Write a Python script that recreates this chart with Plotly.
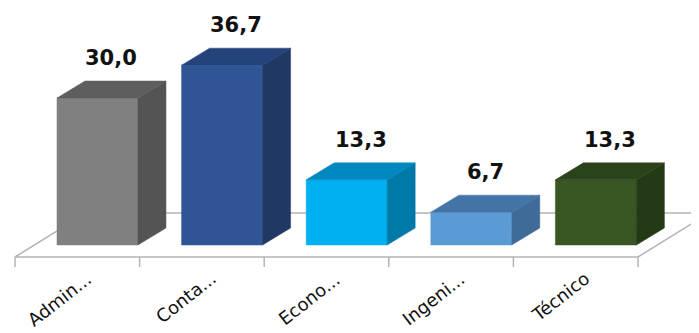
import plotly.graph_objects as go

categories = ["Admin...", "Conta...", "Econo...", "Ingeni...", "Técnico"]
values = [30.0, 36.7, 13.3, 6.7, 13.3]
value_labels = ["30,0", "36,7", "13,3", "6,7", "13,3"]
front_colors = ["#808080", "#2f5597", "#00b0f0", "#5b9bd5", "#385723"]
side_colors = ["#545454", "#203864", "#0078a8", "#3e6b98", "#243a17"]
top_colors = ["#5e5e5e", "#25437b", "#0088c0", "#4374a6", "#2b431b"]

# geometry (style constants)
PX_X = 124.6          # px per category unit
PX_Y = 4.9            # px per value unit
PAGE_OFF = 8          # default page body margin
bar_l, bar_r = -0.163, 0.487
dx, dy = 28 / PX_X, 17 / PX_Y
floor_front = -12 / PX_Y
floor_dx, floor_dy = 71 / PX_X, 44 / PX_Y
tick_len = 10 / PX_Y

fig = go.Figure()

n = len(categories)
# floor outline
fx = [-0.5, n - 0.5, n - 0.5 + floor_dx, -0.5 + floor_dx, -0.5]
fy = [floor_front, floor_front, floor_front + floor_dy, floor_front + floor_dy, floor_front]
fig.add_trace(go.Scatter(x=fx, y=fy, mode="lines", line=dict(color="#b4b4b4", width=1.5),
                         hoverinfo="skip", showlegend=False))
# tick marks
tx, ty = [], []
for k in range(n + 1):
    tx += [k - 0.5, k - 0.5, None]
    ty += [floor_front, floor_front - tick_len, None]
fig.add_trace(go.Scatter(x=tx, y=ty, mode="lines", line=dict(color="#b4b4b4", width=1.5),
                         hoverinfo="skip", showlegend=False))

for i, v in enumerate(values):
    xl, xr = i + bar_l, i + bar_r
    # front face
    fig.add_trace(go.Scatter(x=[xl, xr, xr, xl, xl], y=[0, 0, v, v, 0], mode="lines",
                             fill="toself", fillcolor=front_colors[i],
                             line=dict(color=front_colors[i], width=0.5),
                             hoverinfo="skip", showlegend=False))
    # side face
    fig.add_trace(go.Scatter(x=[xr, xr + dx, xr + dx, xr, xr], y=[0, dy, v + dy, v, 0], mode="lines",
                             fill="toself", fillcolor=side_colors[i],
                             line=dict(color=side_colors[i], width=0.5),
                             hoverinfo="skip", showlegend=False))
    # top face
    fig.add_trace(go.Scatter(x=[xl, xr, xr + dx, xl + dx, xl], y=[v, v, v + dy, v + dy, v], mode="lines",
                             fill="toself", fillcolor=top_colors[i],
                             line=dict(color=top_colors[i], width=0.5),
                             hoverinfo="skip", showlegend=False))
    fig.add_annotation(x=i + (bar_l + bar_r) / 2 + dx / 2, y=v + dy, yshift=23,
                       text="<b>%s</b>" % value_labels[i], showarrow=False,
                       xanchor="center", yanchor="middle",
                       font=dict(family="DejaVu Sans", size=21, color="#111111"))
    fig.add_annotation(x=i + 0.165, y=floor_front - 8 / PX_Y, text=categories[i], showarrow=False,
                       textangle=-38, xanchor="right", yanchor="top",
                       font=dict(family="DejaVu Sans", size=18, color="#111111"))

W, H = 699 - PAGE_OFF, 333 - PAGE_OFF
xmin = -0.5 - (15 - PAGE_OFF) / PX_X
ymin = -(H - (245 - PAGE_OFF)) / PX_Y
fig.update_layout(
    width=W, height=H, autosize=False,
    margin=dict(l=0, r=0, t=0, b=0),
    paper_bgcolor="white", plot_bgcolor="white",
    xaxis=dict(range=[xmin, xmin + W / PX_X], visible=False, fixedrange=True),
    yaxis=dict(range=[ymin, ymin + H / PX_Y], visible=False, fixedrange=True),
)
fig.write_html("out.html")
